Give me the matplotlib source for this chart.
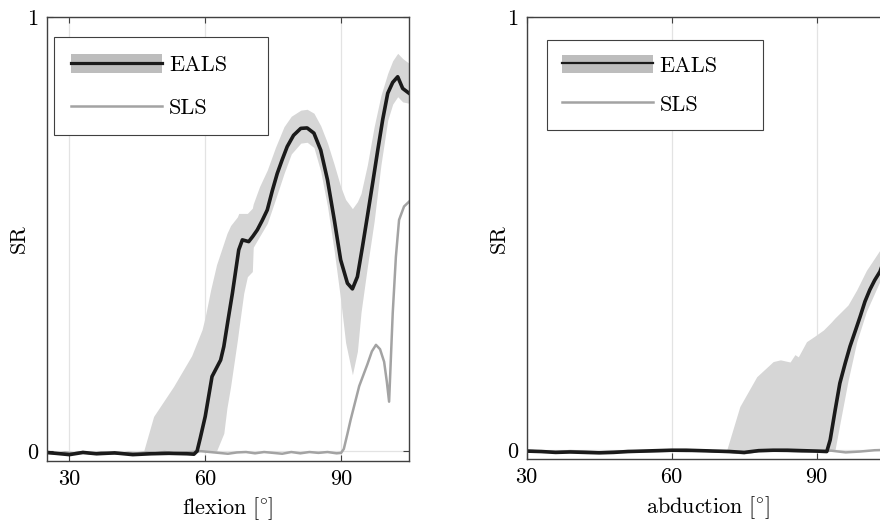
import numpy as np
import matplotlib
matplotlib.use("Agg")
import matplotlib.pyplot as plt
from matplotlib.patches import Patch
from matplotlib.lines import Line2D
from matplotlib.legend_handler import HandlerTuple

plt.rcParams['font.family'] = ['cmr10']
plt.rcParams['mathtext.fontset'] = 'cm'
plt.rcParams['axes.formatter.use_mathtext'] = True

# ---- flexion (left) ----
flex_x = [25, 28, 30, 33, 36, 40, 44, 48, 52, 56, 57.5, 58.2, 58.9, 60, 61.5, 63.4, 64.1, 65,
          66, 67.4, 68.2, 69.6, 70.5, 71.5, 72.6, 73.7, 74.8, 75.9, 77, 78.1, 79.5, 81.1,
          82.5, 84.0, 85.5, 87.0, 88.5, 89.9, 91.4, 92.5, 93.6, 94.7, 95.8, 97, 98.1, 99.2, 100.3,
          101.4, 102.5, 103.6, 105]
flex_eals = [-0.003, -0.006, -0.008, -0.003, -0.006, -0.004, -0.008, -0.006, -0.005, -0.006, -0.007,
             0.0, 0.03, 0.08, 0.172, 0.21, 0.241, 0.30, 0.364, 0.464, 0.487, 0.483, 0.495,
             0.51, 0.532, 0.556, 0.60, 0.64, 0.672, 0.702, 0.728, 0.744, 0.745, 0.733, 0.694,
             0.625, 0.533, 0.441, 0.387, 0.374, 0.402, 0.47, 0.541, 0.62, 0.694, 0.765, 0.825,
             0.85, 0.863, 0.836, 0.825]

flex_band_x = [25, 46.4, 48.6, 53, 57, 59.3, 60, 61.2, 62.5, 62.6, 64.1, 64.8, 65.6, 67.1, 67.4,
               68.5, 69.3, 70.4, 70.6, 72, 73.7, 75.5, 77.4, 79, 81.1, 82.5, 84, 85.5, 87, 88.5,
               89.9, 91, 92.5, 93.6, 94.4, 95.8, 97.3, 98.8, 100.3, 101.4, 102.5, 103.6, 105]
flex_upper = [0, 0, 0.08, 0.149, 0.22, 0.28, 0.31, 0.372, 0.43, 0.433, 0.48, 0.502, 0.52, 0.54,
              0.548, 0.548, 0.548, 0.56, 0.57, 0.61, 0.648, 0.70, 0.748, 0.772, 0.786, 0.788,
              0.779, 0.75, 0.71, 0.66, 0.61, 0.58, 0.559, 0.575, 0.594, 0.66, 0.748, 0.82, 0.871,
              0.90, 0.917, 0.905, 0.894]
flex_lower = [0, 0, 0, 0, 0, 0, 0, 0, 0, 0.003, 0.041, 0.10, 0.149, 0.256, 0.28, 0.364, 0.402,
              0.414, 0.47, 0.495, 0.525, 0.58, 0.64, 0.685, 0.71, 0.712, 0.70, 0.645, 0.564, 0.46,
              0.349, 0.25, 0.176, 0.23, 0.32, 0.425, 0.53, 0.66, 0.763, 0.80, 0.817, 0.805, 0.802]

flex_sls_x = [25, 27, 29, 31, 33, 35, 37, 39, 41, 43, 45, 47, 49, 51, 53, 55, 57, 59, 61, 63, 65,
              67, 69, 71, 73, 75, 77, 79, 81, 83, 85, 87, 89, 90, 90.6, 91.4, 92.1, 94, 95.8,
              96.8, 97.7, 98.6, 99.5, 100.1, 100.6, 101.4, 102.1, 102.8, 103.9, 105]
flex_sls = [-0.004, -0.006, -0.003, -0.005, -0.002, -0.006, -0.003, -0.005, -0.006, -0.004, -0.005,
            -0.003, -0.004, -0.002, -0.004, -0.003, -0.002, 0.0, -0.002, -0.004, -0.006, -0.003,
            -0.002, -0.005, -0.002, -0.004, -0.006, -0.002, -0.005, -0.002, -0.004, -0.002,
            -0.005, -0.004, 0.005, 0.04, 0.072, 0.15, 0.2, 0.23, 0.245, 0.235, 0.206, 0.16,
            0.114, 0.318, 0.448, 0.533, 0.564, 0.575]

# ---- abduction (right) ----
abd_x = [30, 33, 36, 39, 42, 45, 48, 51, 54, 57, 60, 63, 66, 69, 72, 75, 78, 81, 84, 87, 90, 92.1,
         92.8, 93.8, 94.8, 95.9, 96.9, 98, 99, 100, 101, 102, 103.1, 104, 105]
abd_eals = [-0.003, -0.004, -0.006, -0.005, -0.006, -0.007, -0.006, -0.004, -0.003, -0.002, -0.001,
            -0.001, -0.002, -0.003, -0.004, -0.006, -0.002, -0.001, -0.001, -0.002, -0.003, -0.004,
            0.023, 0.09, 0.154, 0.20, 0.239, 0.275, 0.308, 0.343, 0.37, 0.392, 0.412, 0.44, 0.46]

abd_band_x = [30, 71.4, 74.1, 77.6, 81, 82.5, 84.5, 85.5, 86.2, 87.9, 89.5, 91.4, 93, 93.8, 94.8,
              96.5, 98.3, 100.3, 101.5, 103.1, 105]
abd_upper = [0, 0, 0.1, 0.169, 0.204, 0.208, 0.203, 0.22, 0.215, 0.25, 0.262, 0.277, 0.295, 0.305,
             0.316, 0.335, 0.37, 0.415, 0.435, 0.462, 0.50]
abd_lower = [0, 0, 0, 0, 0, 0, 0, 0, 0, 0, 0, 0, 0, 0, 0.06, 0.16, 0.25, 0.32, 0.35, 0.39, 0.43]

abd_sls_x = list(range(30, 106, 3))
abd_sls = [-0.002, -0.004, -0.005, -0.003, -0.004, -0.006, -0.004, -0.003, -0.004, -0.003, -0.002,
           -0.003, -0.001, -0.004, -0.005, -0.008, -0.003, -0.002, -0.003, -0.004, -0.003, -0.002,
           -0.006, -0.004, -0.001, 0.0]

band_col = '#d6d6d6'
eals_col = '#1a1a1a'
sls_col = '#a3a3a3'
spine_col = '#404040'

fig = plt.figure(figsize=(8.8, 5.31), dpi=100)
ax1 = fig.add_axes([0.0531, 0.1324, 0.4117, 0.835])
ax2 = fig.add_axes([0.5985, 0.1350, 0.4119, 0.8324])


def style(ax, xlim, xlabel, leg_box, lspace, bpad, leg_lw):
    ax.set_xlim(*xlim)
    ax.set_ylim(-0.022, 1)
    ax.set_xticks([30, 60, 90])
    ax.set_xticklabels(['30', '60', '90'])
    ax.set_yticks([0, 1])
    ax.set_yticklabels(['0', '1'])
    ax.grid(True, color='#e3e3e3', lw=0.9)
    ax.set_axisbelow(True)
    ax.tick_params(direction='in', length=4, width=0.8, color=spine_col, labelsize=16,
                   top=True, right=True, pad=6)
    for s in ax.spines.values():
        s.set_color(spine_col)
        s.set_linewidth(1.0)
    ax.set_xlabel(xlabel, fontsize=16, labelpad=5)
    ax.set_ylabel('SR', fontsize=16, labelpad=-1)
    h_eals = (Patch(facecolor='#bdbdbd', edgecolor='none'),
              Line2D([], [], color=eals_col, lw=leg_lw))
    h_sls = Line2D([], [], color=sls_col, lw=1.8)
    leg = ax.legend([h_eals, h_sls], ['EALS', 'SLS'], loc='upper left',
                    bbox_to_anchor=leg_box, mode='expand', borderaxespad=0, fontsize=16,
                    handler_map={tuple: HandlerTuple(ndivide=1)},
                    handlelength=4.1, handleheight=0.9, labelspacing=lspace,
                    borderpad=bpad, handletextpad=0.3, fancybox=False, framealpha=1)
    leg.get_frame().set_edgecolor(spine_col)
    leg.get_frame().set_linewidth(0.8)


ax1.fill_between(flex_band_x, flex_lower, flex_upper, color=band_col, lw=0)
ax1.plot(flex_sls_x, flex_sls, color=sls_col, lw=1.8)
ax1.plot(flex_x, flex_eals, color=eals_col, lw=2.6)
style(ax1, (25, 105), r'$\mathrm{flexion}\ [\!^\circ\!]$', (0.02, 0.5, 0.591, 0.456),
      1.0, 0.78, 2.3)

ax2.fill_between(abd_band_x, abd_lower, abd_upper, color=band_col, lw=0)
ax2.plot(abd_sls_x, abd_sls, color=sls_col, lw=1.8)
ax2.plot(abd_x, abd_eals, color=eals_col, lw=2.6)
style(ax2, (30, 105), r'$\mathrm{abduction}\ [\!^\circ\!]$', (0.055, 0.5, 0.596, 0.449),
      0.8, 0.68, 1.6)

fig.savefig('out.png', dpi=100)
